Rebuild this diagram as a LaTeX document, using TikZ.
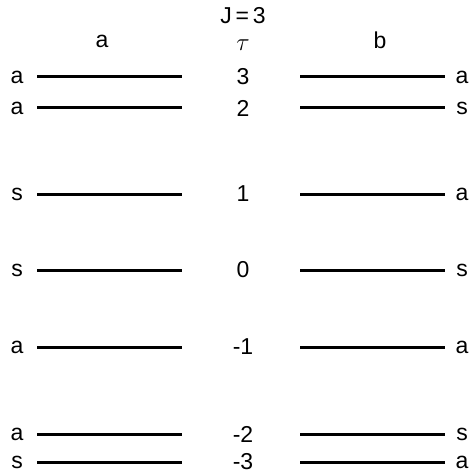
\documentclass[tikz,border=0pt]{standalone}
\usepackage{fontspec}
\setmainfont{Liberation Sans}
\usetikzlibrary{positioning}

\begin{document}
\begin{tikzpicture}[x=1pt,y=-1pt,
  level/.style={line width=3pt},
  lbl/.style={font=\fontsize{23}{26}\selectfont, inner sep=0pt}]
  \useasboundingbox (0,0) rectangle (476,473);
  % headings
  \node[lbl] (jval) at (243,16) {J\,=\,3};
  \node[lbl, font=\fontsize{26}{28}\selectfont] (tau) at (243,45) {$\tau$};
  \node[lbl] (heada) at (102,41) {a};
  \node[lbl] (headb) at (380,40) {b};
  % levels: index / tau / y / left / right
  \foreach \i/\t/\y/\l/\r in {1/3/77/a/a, 2/2/108/a/s, 3/1/194/s/a, 4/0/270/s/s,
                             5/-1/347/a/a, 6/-2/434/a/s, 7/-3/462/s/a} {
    \coordinate (ls\i) at (37,\y);
    \coordinate (le\i) at (182,\y);
    \coordinate (rs\i) at (300,\y);
    \coordinate (re\i) at (445,\y);
    \draw[level] (ls\i) -- (le\i);
    \draw[level] (rs\i) -- (re\i);
    \node[lbl] (tv\i) at (243,\y) {\t};
    \node[lbl] (sl\i) at (17,\y) {\l};
    \node[lbl] (sr\i) at (462,\y) {\r};
  }
\end{tikzpicture}
\end{document}
